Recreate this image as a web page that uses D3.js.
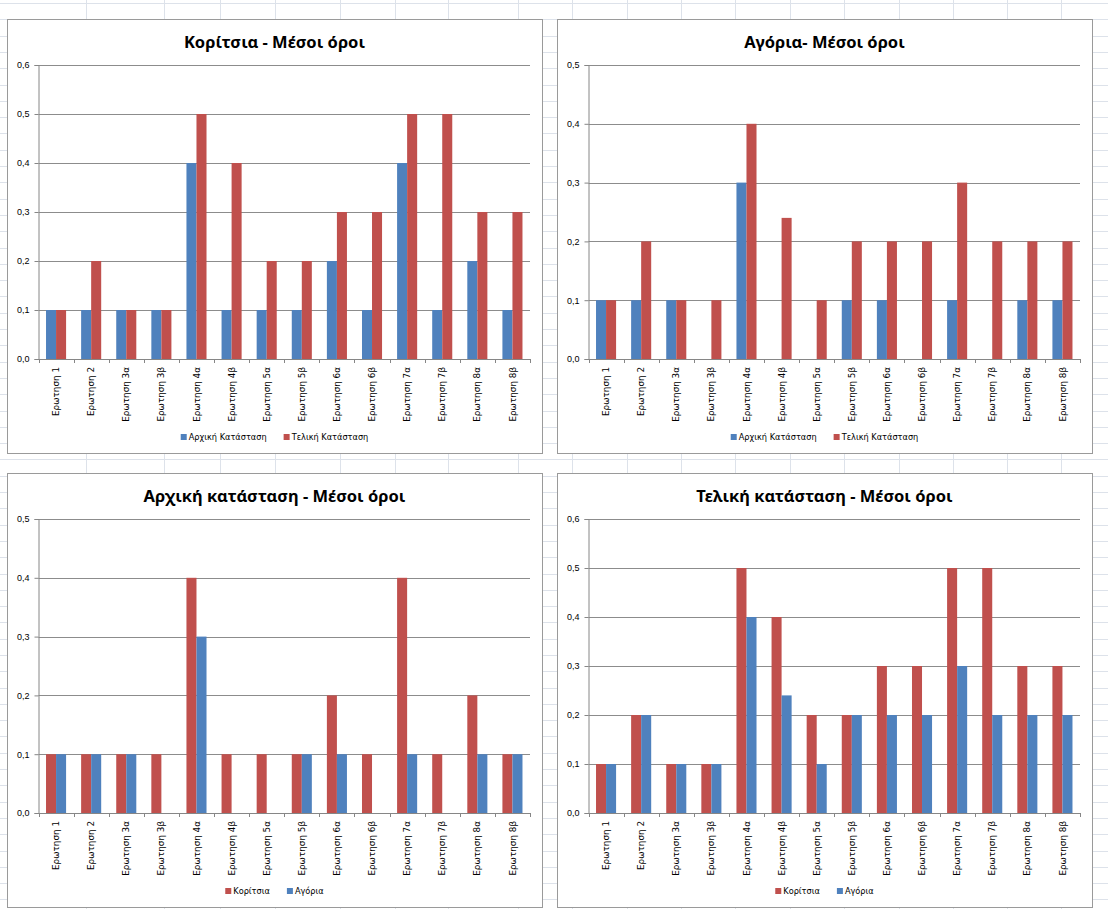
<!DOCTYPE html>
<html>
<head>
<meta charset="utf-8">
<script src="https://cdn.jsdelivr.net/npm/d3@7"></script>
<style>
  body { margin: 0; background: #fff; }
  svg { display: block; }
</style>
</head>
<body>
<script>
"use strict";

const WIDTH = 1108
const HEIGHT = 909

const categories = ["Ερωτηση 1", "Ερωτηση 2", "Ερωτηση 3α", "Ερωτηση 3β", "Ερωτηση 4α", "Ερωτηση 4β",
    "Ερωτηση 5α", "Ερωτηση 5β", "Ερωτηση 6α", "Ερωτηση 6β", "Ερωτηση 7α", "Ερωτηση 7β", "Ερωτηση 8α", "Ερωτηση 8β"]

const girls_initial = [0.1, 0.1, 0.1, 0.1, 0.4, 0.1, 0.1, 0.1, 0.2, 0.1, 0.4, 0.1, 0.2, 0.1]
const girls_final   = [0.1, 0.2, 0.1, 0.1, 0.5, 0.4, 0.2, 0.2, 0.3, 0.3, 0.5, 0.5, 0.3, 0.3]
const boys_initial  = [0.1, 0.1, 0.1, 0, 0.3, 0, 0, 0.1, 0.1, 0, 0.1, 0, 0.1, 0.1]
const boys_final    = [0.1, 0.2, 0.1, 0.1, 0.4, 0.24, 0.1, 0.2, 0.2, 0.2, 0.3, 0.2, 0.2, 0.2]

const ticks_06 = [0, 0.1, 0.2, 0.3, 0.4, 0.5, 0.6]
const ticks_05 = [0, 0.1, 0.2, 0.3, 0.4, 0.5]

const BLUE = "#4f81bd"
const RED = "#c0504d"

// spreadsheet columns behind the charts
const sheet_cols = [86, 164, 220, 275, 340, 395, 448, 518, 572, 627, 681, 735, 790, 844, 899, 953, 1007, 1061]

const charts = [
    { x: 7, y: 19, title: "Κορίτσια - Μέσοι όροι", ticks: ticks_06,
      series: [{ name: "Αρχική Κατάσταση", values: girls_initial, color: BLUE },
               { name: "Τελική Κατάσταση", values: girls_final, color: RED }] },
    { x: 557, y: 19, title: "Αγόρια- Μέσοι όροι", ticks: ticks_05,
      series: [{ name: "Αρχική Κατάσταση", values: boys_initial, color: BLUE },
               { name: "Τελική Κατάσταση", values: boys_final, color: RED }] },
    { x: 7, y: 473, title: "Αρχική κατάσταση - Μέσοι όροι", ticks: ticks_05,
      series: [{ name: "Κορίτσια", values: girls_initial, color: RED },
               { name: "Αγόρια", values: boys_initial, color: BLUE }] },
    { x: 557, y: 473, title: "Τελική κατάσταση  - Μέσοι όροι", ticks: ticks_06,
      series: [{ name: "Κορίτσια", values: girls_final, color: RED },
               { name: "Αγόρια", values: boys_final, color: BLUE }] },
]

const BOX_W = 535
const BOX_H = 434

const svg = d3.select("body").append("svg")
    .attr("width", WIDTH)
    .attr("height", HEIGHT)

// sheet grid
const sheet = svg.append("g").attr("stroke", "#dde2ea").attr("stroke-width", 1)
sheet_cols.forEach(cx => {
    sheet.append("line").attr("x1", cx + 0.5).attr("x2", cx + 0.5).attr("y1", 0).attr("y2", HEIGHT)
})
for (let ry = 3; ry < HEIGHT; ry += 16.3) {
    sheet.append("line").attr("x1", 0).attr("x2", WIDTH)
        .attr("y1", Math.round(ry) + 0.5).attr("y2", Math.round(ry) + 0.5)
}

charts.forEach(drawChart)

function drawChart(c) {
    const g = svg.append("g").attr("transform", `translate(${c.x},${c.y})`)

    g.append("rect")
        .attr("x", 0.5).attr("y", 0.5)
        .attr("width", BOX_W).attr("height", BOX_H)
        .attr("fill", "#fff")
        .attr("stroke", "#9a9a9a")

    const plotL = 31.5, plotR = 523, plotT = 46, plotB = 340

    const x = d3.scaleBand().domain(categories).range([plotL, plotR])
    const xs = d3.scaleBand().domain(d3.range(c.series.length))
        .range([0, x.bandwidth()]).paddingInner(0).paddingOuter(0.75)
    const y = d3.scaleLinear().domain([0, d3.max(c.ticks)]).range([plotB, plotT])

    g.append("text")
        .attr("x", BOX_W / 2).attr("y", 29)
        .attr("text-anchor", "middle")
        .attr("font-family", "Noto Sans, sans-serif")
        .attr("font-weight", "bold")
        .attr("font-size", 16.5)
        .attr("fill", "#000")
        .text(c.title)

    // gridlines
    g.append("g").selectAll("line")
        .data(c.ticks.slice(1))
        .join("line")
        .attr("x1", plotL).attr("x2", plotR)
        .attr("y1", d => Math.round(y(d)) + 0.5).attr("y2", d => Math.round(y(d)) + 0.5)
        .attr("stroke", "#8c8c8c")
        .attr("stroke-width", 1)

    // bars
    c.series.forEach((s, si) => {
        g.append("g").selectAll("rect")
            .data(s.values)
            .join("rect")
            .attr("x", (d, i) => x(categories[i]) + xs(si))
            .attr("width", xs.bandwidth())
            .attr("y", d => y(d))
            .attr("height", d => plotB - y(d))
            .attr("fill", s.color)
    })

    // y axis
    const yAxis = g.append("g")
        .attr("transform", `translate(${plotL},0)`)
        .call(d3.axisLeft(y).tickValues(c.ticks).tickSize(4).tickPadding(5)
            .tickFormat(d => d3.format(".1f")(d).replace(".", ",")))
    yAxis.selectAll("line, path").attr("stroke", "#868686")
    yAxis.selectAll("text")
        .attr("font-family", "Liberation Sans, sans-serif")
        .attr("font-size", 9)
        .attr("fill", "#000")

    // x axis, tick marks between categories
    const xAxis = g.append("g")
        .attr("transform", `translate(0,${plotB})`)
        .call(d3.axisBottom(x).tickSize(0).tickPadding(0))
    xAxis.select("path").attr("stroke", "#868686").attr("d", `M${plotL},0.5H${plotR}`)
    xAxis.selectAll(".tick text")
        .attr("transform", "rotate(-90)")
        .attr("text-anchor", "end")
        .attr("x", -8)
        .attr("y", 0)
        .attr("dy", "0.35em")
        .attr("font-family", "DejaVu Sans, sans-serif")
        .attr("font-size", 8.8)
        .attr("fill", "#000")
    const bounds = categories.map(k => x(k)).concat([plotR])
    xAxis.append("g").selectAll("line")
        .data(bounds)
        .join("line")
        .attr("x1", d => Math.round(d) + 0.5).attr("x2", d => Math.round(d) + 0.5)
        .attr("y1", 0).attr("y2", 4)
        .attr("stroke", "#868686")

    // legend
    const leg = g.append("g")
    let lx = 0
    c.series.forEach((s, si) => {
        const item = leg.append("g").attr("transform", `translate(${lx},0)`)
        item.append("rect").attr("x", 0).attr("y", -3).attr("width", 6).attr("height", 6).attr("fill", s.color)
        const t = item.append("text")
            .attr("x", 8).attr("y", 0).attr("dy", "0.35em")
            .attr("font-family", "DejaVu Sans, sans-serif")
            .attr("font-size", 8.2)
            .attr("fill", "#000")
            .text(s.name)
        lx += 8 + t.node().getComputedTextLength() + 17
    })
    const legW = lx - 17
    leg.attr("transform", `translate(${BOX_W / 2 - legW / 2},418)`)
}
</script>
</body>
</html>
